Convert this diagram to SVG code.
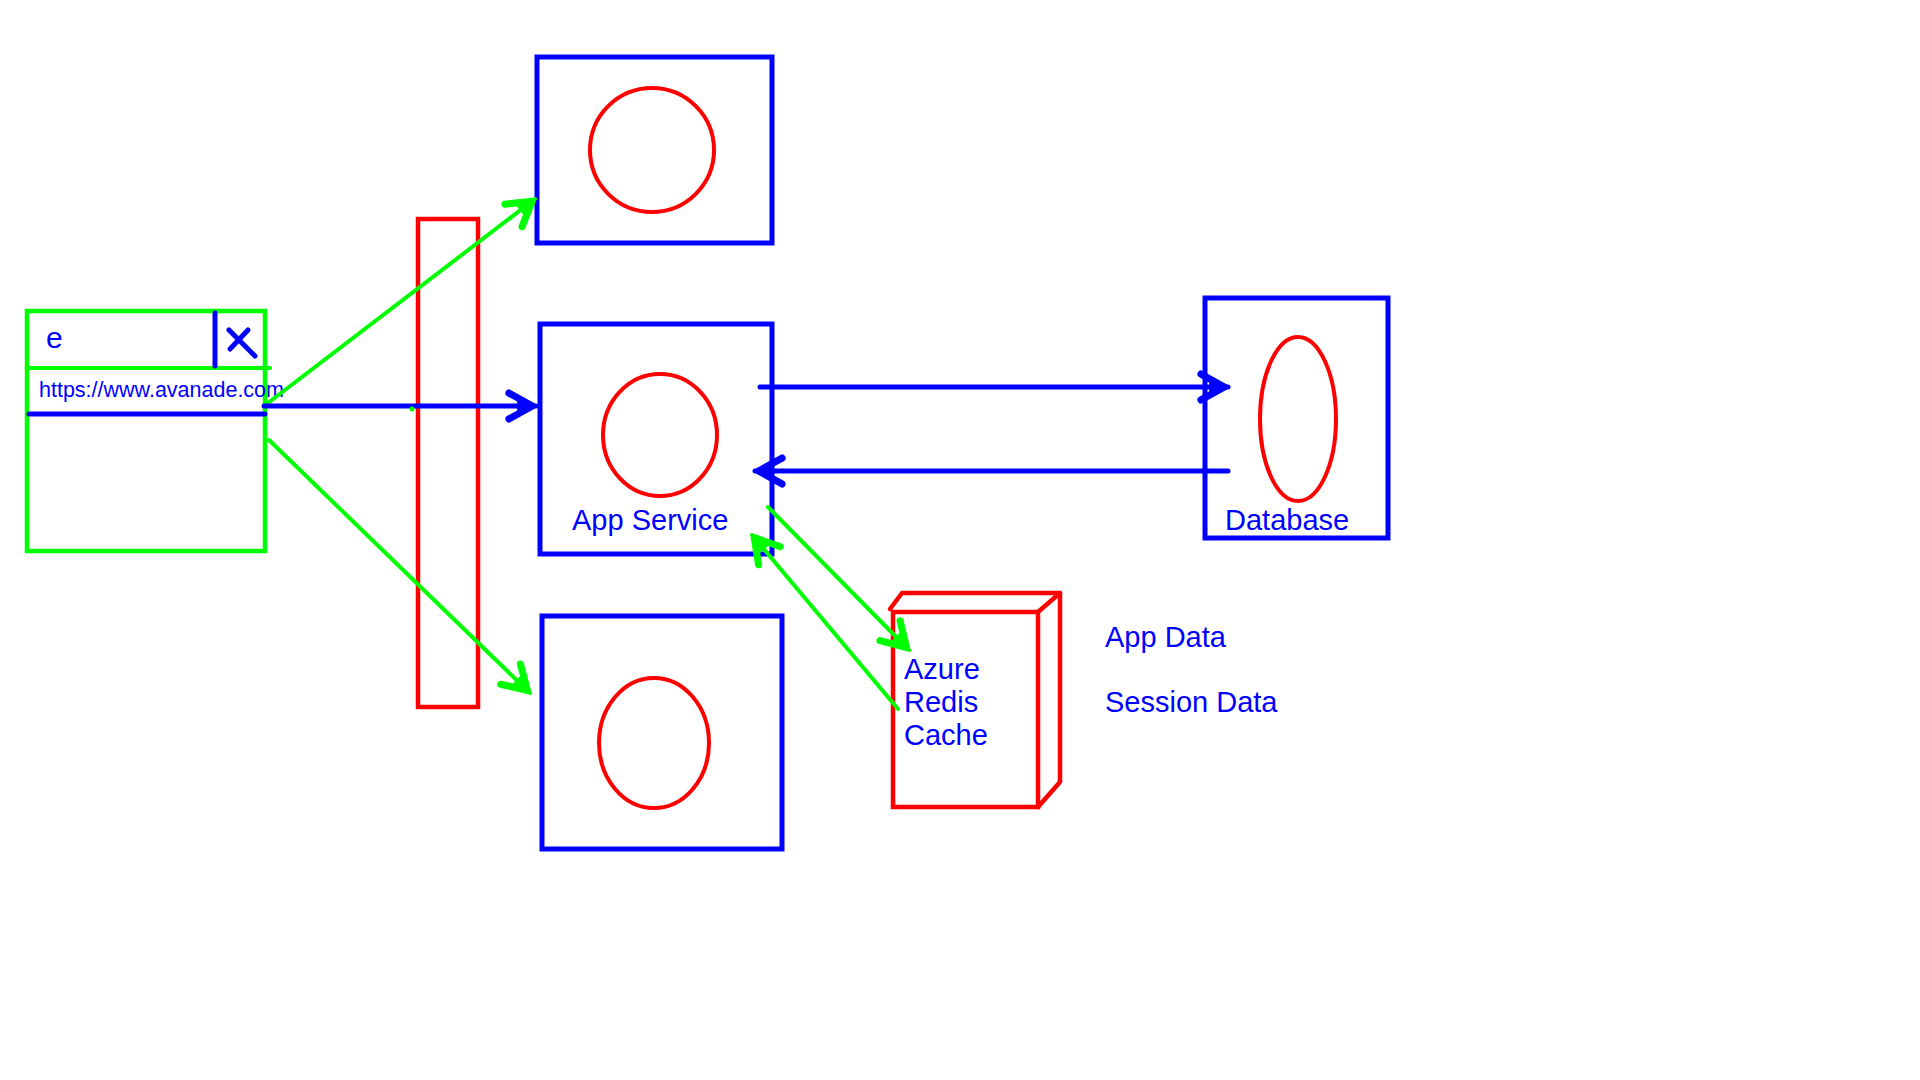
<svg xmlns="http://www.w3.org/2000/svg" width="1920" height="1080" viewBox="0 0 1920 1080">
<style>
.bbox{fill:none;stroke:#0000FF;stroke-width:5}
.rbox{fill:none;stroke:#FF0000;stroke-width:4.5}
.gbox{fill:none;stroke:#00FF00;stroke-width:4.5}
.bl{fill:none;stroke:#0000FF;stroke-width:5;stroke-linecap:round}
.gl{fill:none;stroke:#00FF00;stroke-width:4;stroke-linecap:round}
.t{font-family:"Liberation Sans",Arial,sans-serif;fill:#0000FF}
</style>
<defs>
<marker id="ab" markerUnits="userSpaceOnUse" markerWidth="40" markerHeight="40" refX="0" refY="0" viewBox="-30 -15 34 30" orient="auto" overflow="visible">
<path d="M-23,-11 L-3,0 L-23,11" fill="none" stroke="#0000FF" stroke-width="6" stroke-linejoin="round" stroke-linecap="round"/>
<path d="M-3,0 L-16,-6 L-16,6 Z" fill="#0000FF"/>
</marker>
<marker id="ag" markerUnits="userSpaceOnUse" markerWidth="40" markerHeight="40" refX="0" refY="0" viewBox="-30 -15 34 30" orient="auto" overflow="visible">
<path d="M-23,-12 L-3,0 L-23,12" fill="none" stroke="#00FF00" stroke-width="6" stroke-linejoin="round" stroke-linecap="round"/>
<path d="M-3,0 L-16,-7 L-16,7 Z" fill="#00FF00"/>
</marker>
</defs>
<rect width="1920" height="1080" fill="#FFFFFF"/>

<g id="browser">
<rect class="gbox" x="27" y="311" width="238" height="240"/>
<line class="gl" x1="27" y1="368" x2="270" y2="368" stroke-width="4.5"/>
<line class="bl" x1="215" y1="313" x2="215" y2="366"/>
<line class="bl" x1="229" y1="330" x2="255" y2="356"/>
<line class="bl" x1="248" y1="330" x2="230" y2="349"/>
<text class="t" x="46" y="348" font-size="30">e</text>
<text class="t" x="39" y="397" font-size="21.5">https://www.avanade.com</text>
<line class="bl" x1="29" y1="414" x2="265" y2="414"/>
</g>

<g id="load-balancer">
<rect class="rbox" x="418" y="219" width="60" height="488"/>
</g>

<g id="instance-top">
<rect class="bbox" x="537" y="57" width="235" height="186"/>
<circle cx="652" cy="150" r="62" fill="none" stroke="#FF0000" stroke-width="4"/>
</g>

<g id="app-service">
<rect class="bbox" x="540" y="324" width="232" height="230"/>
<ellipse cx="660" cy="435" rx="57" ry="61" fill="none" stroke="#FF0000" stroke-width="4"/>
<text class="t" x="572" y="530" font-size="29">App Service</text>
</g>

<g id="instance-bottom">
<rect class="bbox" x="542" y="616" width="240" height="233"/>
<ellipse cx="654" cy="743" rx="55" ry="65" fill="none" stroke="#FF0000" stroke-width="4"/>
</g>

<g id="database">
<rect class="bbox" x="1205" y="298" width="183" height="240"/>
<ellipse cx="1298" cy="419" rx="38" ry="82" fill="none" stroke="#FF0000" stroke-width="4"/>
<text class="t" x="1225" y="530" font-size="29">Database</text>
</g>

<g id="redis-cache">
<rect class="rbox" x="893" y="612" width="145" height="195"/>
<path class="rbox" d="M890,609 L902,593 L1060,593 L1060,782 L1038,807 M1038,612 L1060,593" stroke-linejoin="round" stroke-linecap="round"/>
<text class="t" x="904" y="679" font-size="29">Azure</text>
<text class="t" x="904" y="712" font-size="29">Redis</text>
<text class="t" x="904" y="745" font-size="29">Cache</text>
</g>

<g id="labels">
<text class="t" x="1105" y="647" font-size="29">App Data</text>
<text class="t" x="1105" y="712" font-size="29">Session Data</text>
</g>

<g id="connectors">
<line class="gl" x1="264" y1="406" x2="535" y2="199" marker-end="url(#ag)"/>
<line class="gl" x1="269" y1="440" x2="530" y2="693" marker-end="url(#ag)"/>
<line class="bl" x1="264" y1="406" x2="536" y2="406" marker-end="url(#ab)"/>
<line class="bl" x1="760" y1="387" x2="1228" y2="387" marker-end="url(#ab)"/>
<line class="bl" x1="1228" y1="471" x2="755" y2="471" marker-end="url(#ab)"/>
<line class="gl" x1="768" y1="507" x2="909" y2="650" marker-end="url(#ag)"/>
<line class="gl" x1="898" y1="709" x2="752" y2="535" marker-end="url(#ag)"/>
<circle cx="412" cy="409" r="2.5" fill="#00FF00"/>
</g>
</svg>
